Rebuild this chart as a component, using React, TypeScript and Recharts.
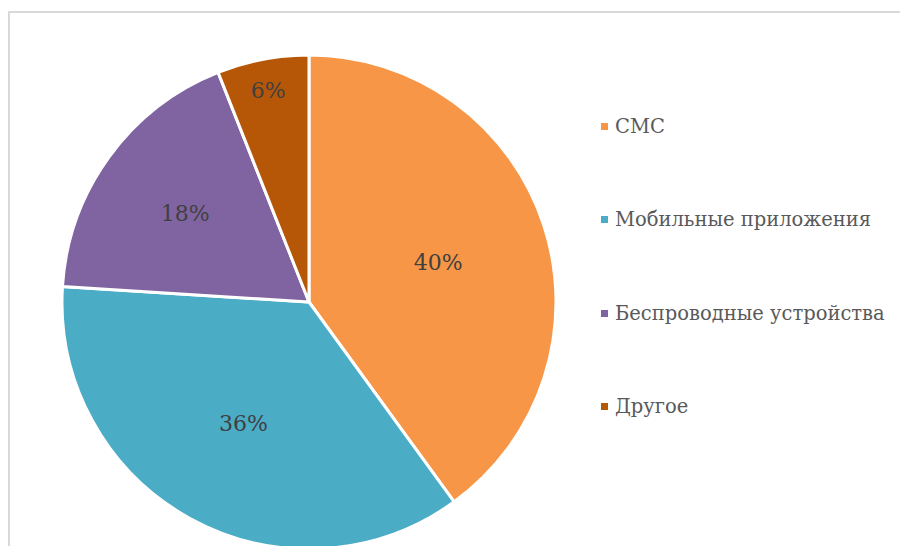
import React from 'react';
import { PieChart, Pie, Cell, Legend } from 'recharts';

const categories = ['СМС', 'Мобильные приложения', 'Беспроводные устройства', 'Другое'];
const shares = [40, 36, 18, 6];
const colors = ['#F79646', '#4BACC6', '#8064A2', '#B65708'];

const data = categories.map((name, i) => ({ name, value: shares[i] }));

const FONT = '"DejaVu Serif", "Liberation Serif", serif';
const RAD = Math.PI / 180;

// excel-like "best fit": small slices push the label outwards
const renderLabel = (props: any) => {
  const { cx, cy, midAngle, outerRadius, percent } = props;
  const k = percent >= 0.3 ? 0.55 : percent >= 0.1 ? 0.62 : 0.88;
  const r = outerRadius * k;
  const x = cx + r * Math.cos(-midAngle * RAD);
  const y = cy + r * Math.sin(-midAngle * RAD);
  return (
    <text x={x} y={y + 2} fill="#404040" fontSize={22} fontFamily={FONT} textAnchor="middle" dominantBaseline="central">
      {Math.round(percent * 100)}%
    </text>
  );
};

const renderLegend = () => (
  <div style={{ fontFamily: FONT }}>
    {data.map((d, i) => (
      <div key={d.name} style={{ display: 'flex', alignItems: 'center', height: 93.3 }}>
        <span style={{ width: 7, height: 7, background: colors[i], marginRight: 7, display: 'inline-block' }} />
        <span style={{ fontSize: 19.5, color: '#595959', whiteSpace: 'nowrap' }}>{d.name}</span>
      </div>
    ))}
  </div>
);

export default function App() {
  return (
    <div style={{ position: 'absolute', left: 0, top: 0, width: 900, height: 546, overflow: 'hidden', background: '#fff' }}>
      <div
        style={{
          position: 'absolute',
          left: 8,
          top: 11,
          width: 1000,
          height: 1000,
          borderLeft: '2px solid #D9D9D9',
          borderTop: '2px solid #D9D9D9',
        }}
      />
      <div style={{ position: 'absolute', left: 0, top: 0 }}>
        <PieChart width={900} height={546} margin={{ top: 0, right: 0, bottom: 0, left: 0 }}>
          <Pie
            data={data}
            dataKey="value"
            nameKey="name"
            cx={309}
            cy={302}
            outerRadius={247}
            startAngle={90}
            endAngle={-270}
            stroke="#fff"
            strokeWidth={3}
            label={renderLabel}
            labelLine={false}
            isAnimationActive={false}
          >
            {data.map((d, i) => (
              <Cell key={d.name} fill={colors[i]} />
            ))}
          </Pie>
          <Legend
            content={renderLegend}
            wrapperStyle={{ position: 'absolute', left: 601, top: 80, width: 299 }}
          />
        </PieChart>
      </div>
    </div>
  );
}
